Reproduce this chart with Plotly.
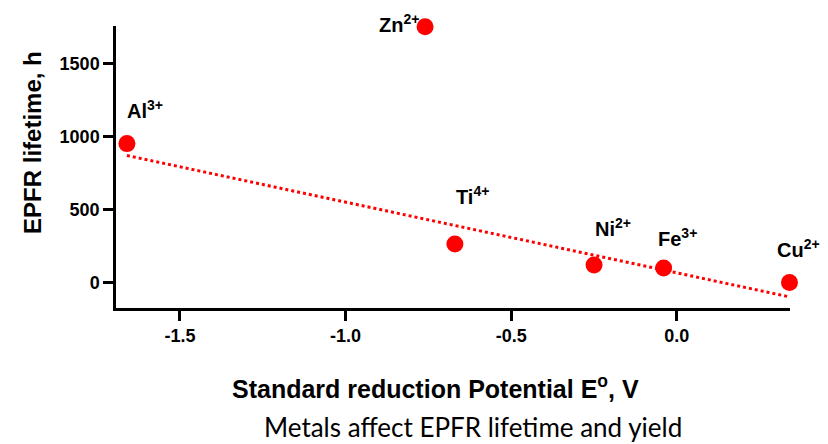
import numpy as np
import plotly.graph_objects as go

# Metal ions: standard reduction potential (V) vs EPFR lifetime (h)
ions = ["Al", "Zn", "Ti", "Ni", "Fe", "Cu"]
charges = ["3+", "2+", "4+", "2+", "3+", "2+"]
potential_v = [-1.66, -0.76, -0.67, -0.25, -0.04, 0.34]
lifetime_h = [950, 1750, 263, 120, 98, 0]

x_ticks = [-1.5, -1.0, -0.5, 0.0]
x_tick_text = ["-1.5", "-1.0", "-0.5", "0.0"]
y_ticks = [0, 500, 1000, 1500]
y_tick_text = ["0", "500", "1000", "1500"]

# Linear trend through all ions except the Zn outlier
fit_x = [x for x, n in zip(potential_v, ions) if n != "Zn"]
fit_y = [y for y, n in zip(lifetime_h, ions) if n != "Zn"]
slope, intercept = np.polyfit(fit_x, fit_y, 1)
line_x = [min(fit_x), max(fit_x)]
line_y = [slope * v + intercept for v in line_x]

RED = "#ff0000"
BOLD = "Liberation Sans"

fig = go.Figure()
fig.add_trace(go.Scatter(
    x=line_x, y=line_y, mode="lines",
    line=dict(color=RED, width=3, dash="dot"),
    hoverinfo="skip", cliponaxis=False,
))
fig.add_trace(go.Scatter(
    x=potential_v, y=lifetime_h, mode="markers",
    marker=dict(color=RED, size=17, line=dict(width=0)),
    cliponaxis=False,
))

# label placement (pixel offsets from each point)
label_dx = [-2, -4, -1, -1, -8, -15]
label_dy = [34, 3, 49, 37, 31, 34]
label_anchor = ["left", "right", "left", "left", "left", "left"]

annotations = []
for name, ch, xv, yv, dx, dy, xa in zip(ions, charges, potential_v, lifetime_h,
                                        label_dx, label_dy, label_anchor):
    annotations.append(dict(
        x=xv, y=yv, xref="x", yref="y",
        text=f"<b>{name}<sup>{ch}</sup></b>",
        showarrow=False, xanchor=xa, yanchor="middle",
        xshift=dx, yshift=dy,
        font=dict(family=BOLD, size=20, color="black"),
    ))

annotations += [
    dict(text="<b>Standard reduction Potential E<sup>o</sup>, V</b>",
         xref="paper", yref="paper", x=0.474, y=-0.28,
         xanchor="center", yanchor="middle", showarrow=False,
         font=dict(family=BOLD, size=25, color="black")),
    dict(text="<b>EPFR lifetime, h</b>", textangle=-90,
         xref="paper", yref="paper", x=-0.125, y=0.588,
         xanchor="center", yanchor="middle", showarrow=False,
         font=dict(family=BOLD, size=24, color="black")),
    dict(text="Metals affect EPFR lifetime and yield",
         xref="paper", yref="paper", x=0.529, y=-0.422,
         xanchor="center", yanchor="middle", showarrow=False,
         font=dict(family="Lato", size=26, color="black")),
]

fig.update_layout(
    width=828, height=444,
    margin=dict(l=116, r=38, t=26, b=136),
    paper_bgcolor="white", plot_bgcolor="white",
    showlegend=False,
    annotations=annotations,
    xaxis=dict(
        range=[-1.693, 0.3415], tickvals=x_ticks,
        ticktext=[f"<b>{t}</b>" for t in x_tick_text],
        showgrid=False, zeroline=False, showline=True,
        linecolor="black", linewidth=2.5,
        ticks="outside", ticklen=10, tickwidth=2.5, tickcolor="black",
        tickfont=dict(family=BOLD, size=18, color="black"),
    ),
    yaxis=dict(
        range=[-175, 1755], tickvals=y_ticks,
        ticktext=[f"<b>{t}</b>" for t in y_tick_text],
        showgrid=False, zeroline=False, showline=True,
        linecolor="black", linewidth=2.5,
        ticks="outside", ticklen=10, tickwidth=2.5, tickcolor="black",
        tickfont=dict(family=BOLD, size=18, color="black"),
    ),
)

fig.write_html("out.html")
